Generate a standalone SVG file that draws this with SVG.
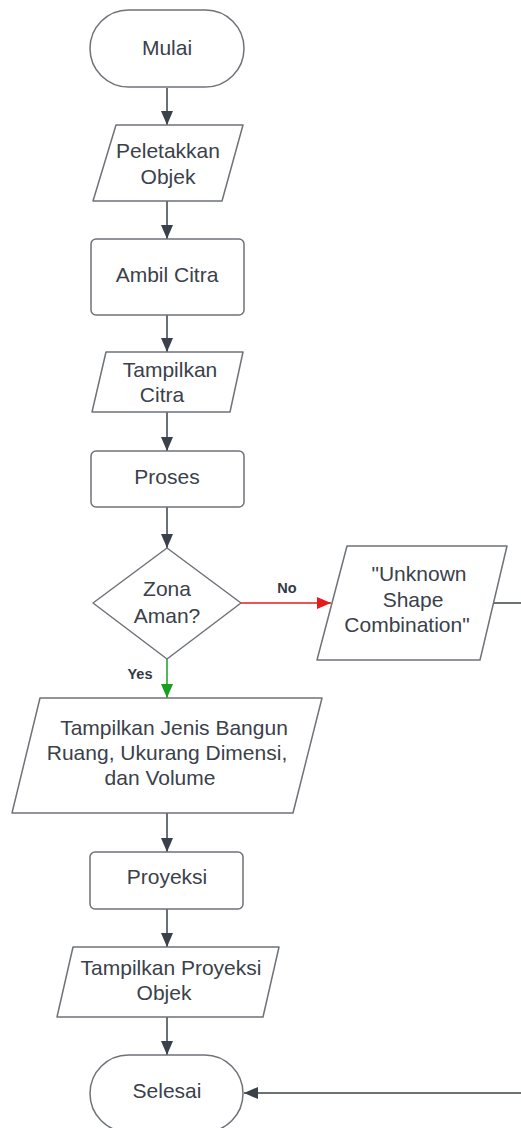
<svg xmlns="http://www.w3.org/2000/svg" width="521" height="1128" viewBox="0 0 521 1128">
<style>
.s{fill:#fff;stroke:#6e7279;stroke-width:1.5;stroke-linejoin:round}
.t{font-family:"Liberation Sans",Arial,sans-serif;font-size:21px;fill:#3a414a;text-anchor:middle}
.l{font-family:"Liberation Sans",Arial,sans-serif;font-size:14.5px;font-weight:bold;fill:#333a45;text-anchor:middle}
.c{fill:none;stroke:#3a414a;stroke-width:1.5}
</style>
<defs>
<marker id="ag" markerUnits="userSpaceOnUse" markerWidth="14" markerHeight="12" refX="14" refY="6" orient="auto"><path d="M0,0 L14,6 L0,12 z" fill="#3a414a"/></marker>
<marker id="ar" markerUnits="userSpaceOnUse" markerWidth="14" markerHeight="12" refX="14" refY="6" orient="auto"><path d="M0,0 L14,6 L0,12 z" fill="#e81b1b"/></marker>
<marker id="agr" markerUnits="userSpaceOnUse" markerWidth="14" markerHeight="12" refX="14" refY="6" orient="auto"><path d="M0,0 L14,6 L0,12 z" fill="#17a01f"/></marker>
</defs>
<rect width="521" height="1128" fill="#fff"/>
<g id="connectors">
<path class="c" d="M167,88 V125" marker-end="url(#ag)"/>
<path class="c" d="M167,201 V239" marker-end="url(#ag)"/>
<path class="c" d="M167,315 V352" marker-end="url(#ag)"/>
<path class="c" d="M167,412 V451" marker-end="url(#ag)"/>
<path class="c" d="M167,507 V548" marker-end="url(#ag)"/>
<path class="c" d="M241,603 H331" style="stroke:#e81b1b" marker-end="url(#ar)"/>
<path class="c" d="M167,659 V698" style="stroke:#17a01f" marker-end="url(#agr)"/>
<path class="c" d="M167,813 V852" marker-end="url(#ag)"/>
<path class="c" d="M167,909 V947" marker-end="url(#ag)"/>
<path class="c" d="M167,1017 V1055" marker-end="url(#ag)"/>
<path class="c" d="M493,603 H540 V1093 H244" marker-end="url(#ag)"/>
<text class="l" x="287" y="593">No</text>
<text class="l" x="140" y="679">Yes</text>
</g>
<g id="mulai">
<rect class="s" x="90" y="10" width="154" height="77" rx="38.5"/>
<text class="t" x="167" y="55">Mulai</text>
</g>
<g id="peletakkan">
<path class="s" d="M116,125 H243 L222,201 H93 Z"/>
<text class="t" x="168" y="158">Peletakkan</text>
<text class="t" x="168" y="184">Objek</text>
</g>
<g id="ambil">
<rect class="s" x="91" y="239" width="153" height="76" rx="5"/>
<text class="t" x="167" y="282">Ambil Citra</text>
</g>
<g id="tampilkan-citra">
<path class="s" d="M106,352 H243 L230,412 H92 Z"/>
<text class="t" x="170" y="377">Tampilkan</text>
<text class="t" x="162" y="402">Citra</text>
</g>
<g id="proses">
<rect class="s" x="91" y="451" width="153" height="56" rx="5"/>
<text class="t" x="167" y="484">Proses</text>
</g>
<g id="zona">
<path class="s" d="M167,548 L241,603 L167,659 L93,603 Z"/>
<text class="t" x="167" y="596">Zona</text>
<text class="t" x="167" y="623">Aman?</text>
</g>
<g id="unknown">
<path class="s" d="M347,546 H507 L480,660 H317 Z"/>
<text class="t" x="419" y="581">"Unknown</text>
<text class="t" x="413" y="607">Shape</text>
<text class="t" x="407" y="632">Combination"</text>
</g>
<g id="tampilkan-jenis">
<path class="s" d="M40,698 H322 L293,813 H12 Z"/>
<text class="t" x="174" y="735">Tampilkan Jenis Bangun</text>
<text class="t" x="167" y="760">Ruang, Ukurang Dimensi,</text>
<text class="t" x="160" y="785">dan Volume</text>
</g>
<g id="proyeksi">
<rect class="s" x="90" y="852" width="153" height="57" rx="5"/>
<text class="t" x="167" y="884">Proyeksi</text>
</g>
<g id="tampilkan-proyeksi">
<path class="s" d="M73,947 H279 L263,1017 H57 Z"/>
<text class="t" x="171" y="975">Tampilkan Proyeksi</text>
<text class="t" x="164" y="1000">Objek</text>
</g>
<g id="selesai">
<rect class="s" x="90" y="1055" width="153" height="77" rx="38.5"/>
<text class="t" x="167" y="1098">Selesai</text>
</g>
</svg>
